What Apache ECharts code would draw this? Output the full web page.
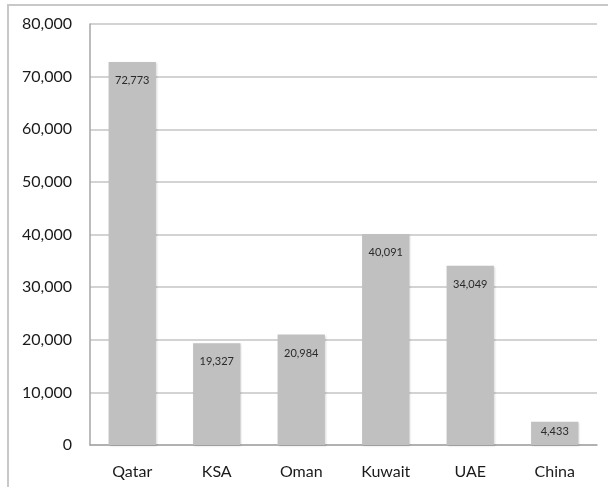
<!DOCTYPE html>
<html>
<head>
<meta charset="utf-8">
<script src="https://cdn.jsdelivr.net/npm/echarts@6/dist/echarts.min.js"></script>
<style>
  html, body { margin: 0; padding: 0; background: #fff; }
  #chart { width: 608px; height: 487px; }
</style>
</head>
<body>
<div id="chart"></div>
<script>
// Countries and their values
const categories = ['Qatar', 'KSA', 'Oman', 'Kuwait', 'UAE', 'China'];
const values = [72773, 19327, 20984, 40091, 34049, 4433];
const yTicks = [0, 10000, 20000, 30000, 40000, 50000, 60000, 70000, 80000];

const fmt = v => v.toLocaleString('en-US');
const font = 'Lato, "Open Sans", sans-serif';

const chart = echarts.init(document.getElementById('chart'), null, { renderer: 'canvas' });

chart.setOption({
  animation: false,
  backgroundColor: '#ffffff',
  graphic: [{
    type: 'rect',
    shape: { x: 8, y: 5, width: 700, height: 600 },
    style: { fill: 'none', stroke: '#c8c8c8', lineWidth: 2 },
    silent: true,
    z: -1
  }],
  grid: { left: 90, right: 11, top: 24, bottom: 42, containLabel: false },
  xAxis: {
    type: 'category',
    data: categories,
    axisLine: { show: true, lineStyle: { color: '#a6a6a6', width: 1.5 } },
    axisTick: { show: false },
    axisLabel: { color: '#1a1a1a', fontFamily: font, fontSize: 16, margin: 19 }
  },
  yAxis: {
    type: 'value',
    min: yTicks[0],
    max: yTicks[yTicks.length - 1],
    interval: yTicks[1] - yTicks[0],
    axisLine: { show: true, lineStyle: { color: '#a6a6a6', width: 1.5 } },
    axisTick: { show: false },
    splitLine: { show: true, lineStyle: { color: '#c4c4c4', width: 1.5 } },
    axisLabel: { color: '#1a1a1a', fontFamily: font, fontSize: 16, margin: 18, formatter: fmt }
  },
  series: [{
    type: 'bar',
    data: values.map((v, i) => ({
      value: v,
      label: i === values.length - 1 ? { distance: 4 } : undefined
    })),
    barWidth: '56%',
    itemStyle: {
      color: '#c0c0c0',
      shadowColor: 'rgba(0,0,0,0.15)',
      shadowBlur: 2,
      shadowOffsetX: 1,
      shadowOffsetY: 1
    },
    label: {
      show: true,
      position: 'insideTop',
      distance: 13,
      color: '#2a2a2a',
      fontFamily: font,
      fontSize: 11,
      formatter: p => fmt(p.value)
    }
  }]
});
</script>
</body>
</html>
